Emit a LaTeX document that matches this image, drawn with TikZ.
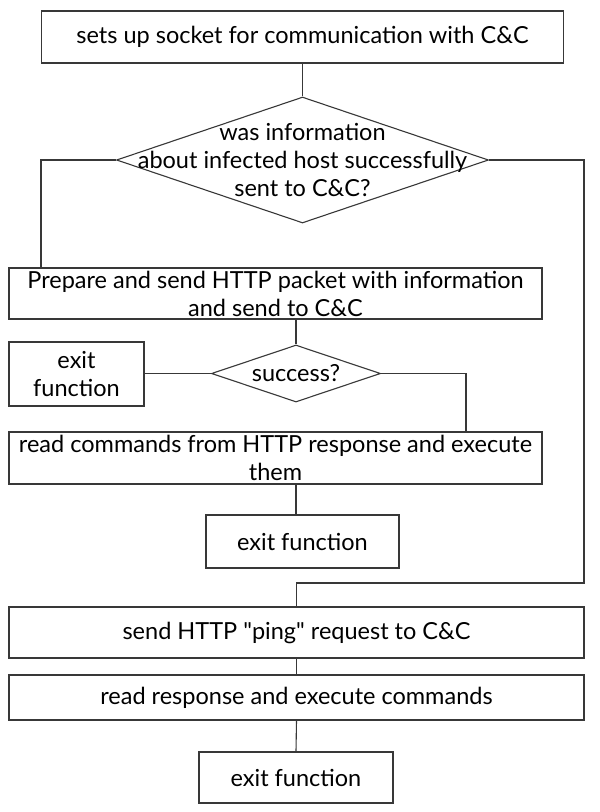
\documentclass[tikz,border=0pt]{standalone}
\usepackage{fontspec}
\setmainfont{Lato}
\usetikzlibrary{shapes.geometric,calc}
\begin{document}
\begin{tikzpicture}[x=1pt,y=-1pt,
  line width=1.1pt,
  lbl/.style={font=\fontsize{23.5}{28}\selectfont, align=center, inner sep=0pt, text=black},
  box/.style={draw=black!78, rectangle, inner sep=0pt},
  dec/.style={draw=black!78, diamond, inner sep=0pt},
  conn/.style={draw=black!78}]
\useasboundingbox (0,0) rectangle (600,812);
\fill[white] (0,0) rectangle (600,812);

\node[box, minimum width=522pt, minimum height=52pt,
  label={[lbl]center:sets up socket for communication with C\&C}] (top) at (302.5,37) {};
\node[dec, minimum width=372pt, minimum height=126pt,
  label={[lbl]center:was information\\about infected host successfully\\sent to C\&C?}] (d1) at (302.5,160) {};
\node[box, minimum width=533pt, minimum height=51pt,
  label={[lbl]center:Prepare and send HTTP packet with information\\and send to C\&C}] (b2) at (275.5,293.5) {};
\node[dec, minimum width=169pt, minimum height=57pt,
  label={[lbl]center:success?}] (d2) at (296,373.5) {};
\node[box, minimum width=135pt, minimum height=64pt,
  label={[lbl]center:exit\\function}] (lexit) at (76.5,374) {};
\node[box, minimum width=533pt, minimum height=52pt,
  label={[lbl]center:read commands from HTTP response and execute\\them}] (b3) at (275.5,458) {};
\node[box, minimum width=193pt, minimum height=53pt,
  label={[lbl]center:exit function}] (exitm) at (302.5,541.5) {};
\node[box, minimum width=575pt, minimum height=51pt,
  label={[lbl]center:send HTTP \textquotedbl ping\textquotedbl\ request to C\&C}] (ping) at (296.5,632.5) {};
\node[box, minimum width=575pt, minimum height=45pt,
  label={[lbl]center:read response and execute commands}] (resp) at (296.5,697.5) {};
\node[box, minimum width=194pt, minimum height=51pt,
  label={[lbl]center:exit function}] (exitb) at (296,777.5) {};

\coordinate (turnA) at (584,583);
\coordinate (joinB) at (466,432);

\draw[conn] (top.south) -- (d1.north);
\draw[conn] (d1.west) -| (top.west |- b2.north);
\draw[conn] (d1.east) -| (turnA) -| (ping.north);
\draw[conn] (d2.north |- b2.south) -- (d2.north);
\draw[conn] (d2.west) -- (lexit.east |- d2.west);
\draw[conn] (d2.east) -| (joinB);
\draw[conn] (d2.south |- b3.south) -- (d2.south |- exitm.north);
\draw[conn] (ping.south) -- (resp.north);
\draw[conn] (resp.south) -- (exitb.north);
\end{tikzpicture}
\end{document}
